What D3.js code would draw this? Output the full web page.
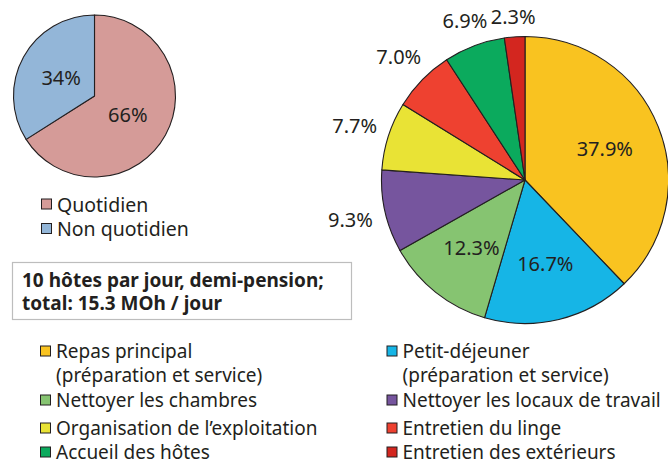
<!DOCTYPE html>
<html><head><meta charset="utf-8">
<script src="https://cdn.jsdelivr.net/npm/d3@7"></script>
<style>
html,body{margin:0;padding:0;background:#fff;}
svg{display:block;font-family:"Noto Sans",sans-serif;}
</style></head>
<body>
<svg id="c" width="668" height="464"></svg>
<script>
// ---- data ----
const smallCategories = ["Quotidien", "Non quotidien"];
const smallValues = [66, 34];
const smallLabels = ["66%", "34%"];
const smallColors = ["#D59B98", "#93B6D8"];

const bigCategories = [
  "Repas principal|(préparation et service)",
  "Petit-déjeuner|(préparation et service)",
  "Nettoyer les chambres",
  "Nettoyer les locaux de travail",
  "Organisation de l’exploitation",
  "Entretien du linge",
  "Accueil des hôtes",
  "Entretien des extérieurs"
];
const bigValues = [37.9, 16.7, 12.3, 9.3, 7.7, 7.0, 6.9, 2.3];
const bigLabels = ["37.9%", "16.7%", "12.3%", "9.3%", "7.7%", "7.0%", "6.9%", "2.3%"];
const bigColors = ["#F9C320", "#16B5E6", "#86C471", "#76559E", "#E9E335", "#EE4130", "#0BAA5D", "#D3261F"];
const bigInside = [true, true, true, false, false, false, false, false];

const infoLines = ["10 hôtes par jour, demi-pension;", "total: 15.3 MOh / jour"];

// ---- drawing ----
const svg = d3.select("#c");
const ink = "#231F20";
const PCT = 20;

const pie = d3.pie().sort(null).value(d => d);

// small pie
const sCx = 94.5, sCy = 96, sR = 81;
const sArc = d3.arc().innerRadius(0).outerRadius(sR);
const sLab = d3.arc().innerRadius(sR * 0.47).outerRadius(sR * 0.47);
const sG = svg.append("g").attr("transform", `translate(${sCx},${sCy})`);
const sArcs = pie(smallValues);
sG.selectAll("path").data(sArcs).join("path")
  .attr("d", sArc).attr("fill", (d, i) => smallColors[i])
  .attr("stroke", ink).attr("stroke-width", 1.1).attr("stroke-linejoin", "round");
sG.selectAll("text").data(sArcs).join("text")
  .attr("x", d => sLab.centroid(d)[0]).attr("y", d => sLab.centroid(d)[1])
  .attr("text-anchor", "middle").attr("dominant-baseline", "central")
  .attr("font-size", PCT).attr("fill", ink)
  .text((d, i) => smallLabels[i]);

// small legend
const sLeg = svg.append("g");
smallCategories.forEach((c, i) => {
  const y = 204 + i * 24.5;
  sLeg.append("rect").attr("x", 41.5).attr("y", y - 5).attr("width", 10).attr("height", 10)
    .attr("fill", smallColors[i]).attr("stroke", ink).attr("stroke-width", 1);
  sLeg.append("text").attr("x", 57).attr("y", y).attr("dominant-baseline", "central")
    .attr("font-size", 19.5).attr("fill", ink).text(c);
});

// info box
svg.append("rect").attr("x", 12.5).attr("y", 262.5).attr("width", 339).attr("height", 57)
  .attr("fill", "#fff").attr("stroke", "#BDBDBD").attr("stroke-width", 1.2);
const info = svg.append("text").attr("x", 22).attr("y", 287)
  .attr("font-size", 19).attr("font-weight", "bold").attr("fill", ink);
infoLines.forEach((t, i) => {
  info.append("tspan").attr("x", 22).attr("dy", i === 0 ? 0 : 23).text(t);
});

// big pie
const bCx = 525, bCy = 180, bR = 143.5;
const bArc = d3.arc().innerRadius(0).outerRadius(bR);
const bIn = d3.arc().innerRadius(86).outerRadius(86);
const bG = svg.append("g").attr("transform", `translate(${bCx},${bCy})`);
const bArcs = pie(bigValues);
bG.selectAll("path").data(bArcs).join("path")
  .attr("d", bArc).attr("fill", (d, i) => bigColors[i])
  .attr("stroke", ink).attr("stroke-width", 1.1).attr("stroke-linejoin", "round");
const labs = bG.selectAll("text").data(bArcs).join("text")
  .attr("text-anchor", "middle")
  .attr("dominant-baseline", "central")
  .attr("font-size", PCT).attr("fill", ink)
  .text((d, i) => bigLabels[i]);
labs.each(function (d, i) {
  const mid = (d.startAngle + d.endAngle) / 2;
  let p;
  if (bigInside[i]) {
    p = bIn.centroid(d);
  } else {
    const bb = this.getBBox();
    const r = bR + 12 + (bb.width / 2) * Math.abs(Math.sin(mid)) + 7 * Math.abs(Math.cos(mid));
    const a = d3.arc().innerRadius(r).outerRadius(r);
    p = a.centroid(d);
  }
  d3.select(this).attr("x", p[0]).attr("y", p[1]);
});

// big legend (two columns)
const legRows = [351, 400, 428, 452];
const legCols = [40.5, 387];
const bLeg = svg.append("g");
bigCategories.forEach((c, i) => {
  const col = i % 2, row = Math.floor(i / 2);
  const x = legCols[col], y = legRows[row];
  bLeg.append("rect").attr("x", x).attr("y", y - 5).attr("width", 10).attr("height", 10)
    .attr("fill", bigColors[i]).attr("stroke", ink).attr("stroke-width", 1);
  c.split("|").forEach((line, k) => {
    bLeg.append("text").attr("x", x + 15.5).attr("y", y + k * 24).attr("dominant-baseline", "central")
      .attr("font-size", 19).attr("fill", ink).text(line);
  });
});
</script>
</body></html>
